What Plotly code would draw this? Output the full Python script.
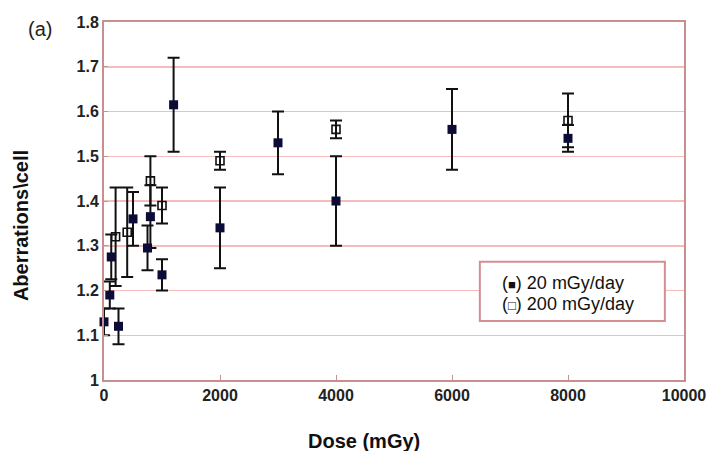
import plotly.graph_objects as go

# ---- data ----
dose_20 = [0, 100, 125, 250, 500, 750, 800, 1000, 1200, 2000, 3000, 4000, 6000, 8000]
mean_20 = [1.13, 1.19, 1.275, 1.12, 1.36, 1.295, 1.365, 1.235, 1.615, 1.34, 1.53, 1.40, 1.56, 1.54]
err_20 = [0.03, 0.03, 0.05, 0.04, 0.06, 0.05, 0.07, 0.035, 0.105, 0.09, 0.07, 0.10, 0.09, 0.03]

dose_200 = [200, 400, 800, 1000, 2000, 4000, 8000]
mean_200 = [1.32, 1.33, 1.445, 1.39, 1.49, 1.56, 1.58]
err_200 = [0.11, 0.10, 0.055, 0.04, 0.02, 0.02, 0.06]

x_ticks = [0, 2000, 4000, 6000, 8000, 10000]
x_tick_labels = ["0", "2000", "4000", "6000", "8000", "10000"]
y_ticks = [1, 1.1, 1.2, 1.3, 1.4, 1.5, 1.6, 1.7, 1.8]
y_tick_labels = ["1", "1.1", "1.2", "1.3", "1.4", "1.5", "1.6", "1.7", "1.8"]

legend_labels = ["(<span style='font-size:13px'>■</span>) 20 mGy/day",
                 "(<span style='font-size:13px'>□</span>) 200 mGy/day"]

FONT = "Liberation Sans, Arial, sans-serif"
GRID = "#f6bcbc"
FRAME = "#c98e8e"

fig = go.Figure()

fig.add_trace(go.Scatter(
    x=dose_200, y=mean_200, mode="markers", name="200 mGy/day", cliponaxis=False,
    marker=dict(symbol="square-open", size=8, color="#111111", line=dict(width=1.6, color="#111111")),
    error_y=dict(type="data", array=err_200, visible=True, color="#111111", thickness=2, width=6),
    showlegend=False,
))
fig.add_trace(go.Scatter(
    x=dose_20, y=mean_20, mode="markers", name="20 mGy/day", cliponaxis=False,
    marker=dict(symbol="square", size=9, color="#0c0c36", line=dict(width=0)),
    error_y=dict(type="data", array=err_20, visible=True, color="#111111", thickness=2, width=6),
    showlegend=False,
))

fig.update_layout(
    width=709, height=451,
    margin=dict(l=104, r=25, t=22, b=71, autoexpand=False),
    paper_bgcolor="white", plot_bgcolor="white",
    font=dict(family=FONT, color="#222222"),
    showlegend=False,
)

fig.update_xaxes(
    range=[0, 10000], tickvals=x_ticks, ticktext=x_tick_labels,
    tickfont=dict(size=16, family=FONT, weight="bold", color="#222222"),
    showgrid=False, zeroline=False, automargin=False,
    showline=True, linecolor=FRAME, linewidth=2, mirror=True,
    ticks="inside", ticklen=5, tickcolor=FRAME, tickwidth=1,
)
fig.update_yaxes(
    range=[1, 1.8], tickvals=y_ticks, ticktext=y_tick_labels,
    tickfont=dict(size=16, family=FONT, weight="bold", color="#222222"),
    showgrid=True, gridcolor=GRID, gridwidth=1.5, zeroline=False, automargin=False,
    showline=True, linecolor=FRAME, linewidth=2, mirror=True,
    ticks="inside", ticklen=4, tickcolor=FRAME, tickwidth=1,
)

# axis titles and panel label
fig.add_annotation(text="Dose (mGy)", xref="paper", yref="paper", x=0.448, y=-0.170,
                   xanchor="center", yanchor="middle", showarrow=False,
                   font=dict(size=20, family=FONT, weight="bold", color="#111111"))
fig.add_annotation(text="Aberrations\\cell", xref="paper", yref="paper", x=-0.143, y=0.43,
                   xanchor="center", yanchor="middle", showarrow=False, textangle=-90,
                   font=dict(size=20, family=FONT, weight="bold", color="#111111"))
fig.add_annotation(text="(a)", xref="paper", yref="paper", x=-0.110, y=0.980,
                   xanchor="center", yanchor="middle", showarrow=False,
                   font=dict(size=20, family=FONT, color="#222222"))

# legend box
fig.add_shape(type="rect", xref="paper", yref="paper", x0=0.648, x1=0.967, y0=0.165, y1=0.330,
              line=dict(color="#d38e92", width=2), fillcolor="white", layer="above")
fig.add_annotation(text=legend_labels[0], xref="paper", yref="paper", x=0.683, y=0.271,
                   xanchor="left", yanchor="middle", showarrow=False,
                   font=dict(size=18, family=FONT, color="#111111"))
fig.add_annotation(text=legend_labels[1], xref="paper", yref="paper", x=0.683, y=0.213,
                   xanchor="left", yanchor="middle", showarrow=False,
                   font=dict(size=18, family=FONT, color="#111111"))

fig.write_html(
    "out.html",
    config={"displayModeBar": False, "staticPlot": True},
    post_script="document.body.style.margin='0';document.body.style.padding='0';document.body.style.overflow='hidden';",
)
